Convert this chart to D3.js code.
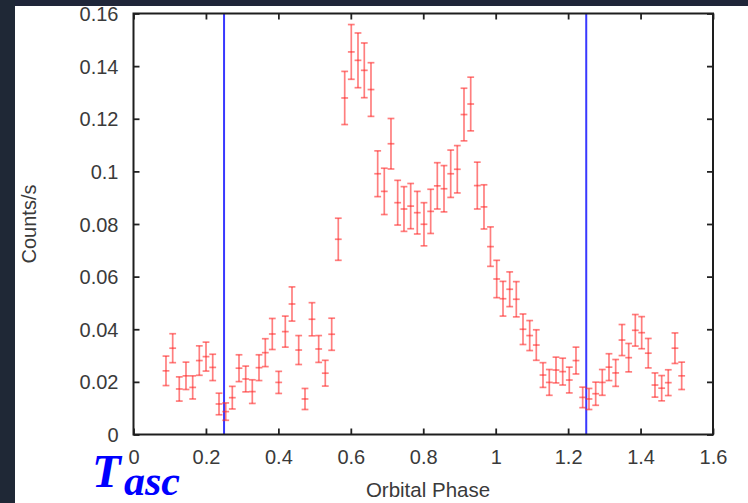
<!DOCTYPE html>
<html>
<head>
<meta charset="utf-8">
<script src="https://cdn.jsdelivr.net/npm/d3@7"></script>
<style>
  html, body { margin: 0; padding: 0; background: #ffffff; }
  svg { display: block; }
</style>
</head>
<body>
<svg width="748" height="503"></svg>
<script>
// orbital phase of each bin
const phase = [
  0.0897, 0.1082, 0.1264, 0.1449, 0.1634, 0.1817, 0.2002, 0.2187, 0.2361, 0.2546,
  0.2728, 0.2913, 0.3098, 0.3280, 0.3465, 0.3639, 0.3832, 0.4009, 0.4191, 0.4376,
  0.4561, 0.4735, 0.4928, 0.5113, 0.5295, 0.5472, 0.5654, 0.5831, 0.6013, 0.6198,
  0.6372, 0.6557, 0.6742, 0.6924, 0.7109, 0.7294, 0.7468, 0.7653, 0.7835, 0.8020,
  0.8205, 0.8388, 0.8573, 0.8758, 0.8940, 0.9125, 0.9310, 0.9492, 0.9677, 0.9856,
  1.0028, 1.0202, 1.0387, 1.0569, 1.0754, 1.0939, 1.1121, 1.1306, 1.1480, 1.1665,
  1.1850, 1.2032, 1.2217, 1.2402, 1.2576, 1.2761, 1.2943, 1.3128, 1.3313, 1.3487,
  1.3672, 1.3855, 1.4031, 1.4213, 1.4398, 1.4583, 1.4765, 1.4950, 1.5135
];

// count rate (counts/s)
const rate = [
  0.0242, 0.0328, 0.0173, 0.0223, 0.0179, 0.0281, 0.0296, 0.0255, 0.0116, 0.0087,
  0.0140, 0.0252, 0.0211, 0.0163, 0.0254, 0.0311, 0.0382, 0.0198, 0.0391, 0.0496,
  0.0321, 0.0135, 0.0438, 0.0325, 0.0233, 0.0381, 0.0742, 0.1279, 0.1454, 0.1422,
  0.1384, 0.1311, 0.0991, 0.0924, 0.1105, 0.0881, 0.0857, 0.0868, 0.0843, 0.0799,
  0.0848, 0.0945, 0.0934, 0.0991, 0.1008, 0.1216, 0.1256, 0.0946, 0.0865, 0.0714,
  0.0591, 0.0516, 0.0552, 0.0514, 0.0400, 0.0376, 0.0340, 0.0226, 0.0198, 0.0245,
  0.0239, 0.0207, 0.0281, 0.0141, 0.0135, 0.0155, 0.0198, 0.0256, 0.0234, 0.0359,
  0.0292, 0.0396, 0.0387, 0.0309, 0.0188, 0.0176, 0.0197, 0.0328, 0.0223
];

// 1-sigma error on the rate
const rateErr = [
  0.0056, 0.0055, 0.0046, 0.0052, 0.0044, 0.0056, 0.0055, 0.0050, 0.0041, 0.0033,
  0.0043, 0.0051, 0.0049, 0.0045, 0.0049, 0.0053, 0.0059, 0.0042, 0.0059, 0.0065,
  0.0055, 0.0040, 0.0063, 0.0051, 0.0049, 0.0061, 0.0080, 0.0101, 0.0104, 0.0104,
  0.0104, 0.0102, 0.0087, 0.0088, 0.0096, 0.0085, 0.0085, 0.0086, 0.0081, 0.0082,
  0.0084, 0.0088, 0.0088, 0.0090, 0.0090, 0.0100, 0.0102, 0.0089, 0.0084, 0.0075,
  0.0071, 0.0066, 0.0066, 0.0067, 0.0058, 0.0057, 0.0058, 0.0047, 0.0049, 0.0049,
  0.0051, 0.0049, 0.0051, 0.0039, 0.0040, 0.0044, 0.0049, 0.0051, 0.0051, 0.0059,
  0.0054, 0.0060, 0.0061, 0.0056, 0.0046, 0.0048, 0.0049, 0.0058, 0.0052
];

// time of ascending node markers
const ascPhase = [0.25, 1.25];

const xTicks = [0, 0.2, 0.4, 0.6, 0.8, 1, 1.2, 1.4, 1.6];
const yTicks = [0, 0.02, 0.04, 0.06, 0.08, 0.1, 0.12, 0.14, 0.16];

const svg = d3.select("svg");

// plot frame
const frame = { left: 133.5, right: 713, top: 13.5, bottom: 434.5 };

const x = d3.scaleLinear().domain([0, 1.6]).range([frame.left, frame.right]);
const y = d3.scaleLinear().domain([0, 0.16]).range([frame.bottom, frame.top]);

// dark slide border on the left and top
svg.append("rect").attr("x", 0).attr("y", 0).attr("width", 748).attr("height", 6).attr("fill", "#1f2639");
svg.append("rect").attr("x", 0).attr("y", 0).attr("width", 15).attr("height", 503).attr("fill", "#1f2836");

const font = "'Liberation Sans', Arial, Helvetica, sans-serif";

// axes: ticks pointing inward on all four sides
const axes = [
  { gen: d3.axisBottom(x).tickValues(xTicks).tickFormat(d3.format("~g")), tr: `translate(0,${frame.bottom})`, label: "x" },
  { gen: d3.axisTop(x).tickValues(xTicks), tr: `translate(0,${frame.top})`, label: null },
  { gen: d3.axisLeft(y).tickValues(yTicks).tickFormat(d3.format("~g")), tr: `translate(${frame.left},0)`, label: "y" },
  { gen: d3.axisRight(y).tickValues(yTicks), tr: `translate(${frame.right},0)`, label: null }
];

axes.forEach(function(a) {
  a.gen.tickSizeInner(-6).tickSizeOuter(0);
  const g = svg.append("g").attr("transform", a.tr).call(a.gen);
  g.select(".domain").remove();
  g.selectAll(".tick line").attr("stroke", "#222").attr("stroke-width", 1.8);
  const t = g.selectAll(".tick text");
  if (!a.label) {
    t.remove();
    return;
  }
  t.attr("fill", "#3a3a3a")
    .style("font-family", font)
    .style("font-size", "20px");
  if (a.label === "x") t.attr("y", 15).attr("dy", "0.71em");
  else t.attr("x", -15).attr("dy", "0.35em");
});

// blue T_asc lines
svg.selectAll("line.asc")
  .data(ascPhase)
  .enter().append("line")
  .attr("class", "asc")
  .attr("x1", d => x(d)).attr("x2", d => x(d))
  .attr("y1", frame.top).attr("y2", frame.bottom)
  .attr("stroke", "#3838ff")
  .attr("stroke-width", 2);

// error bars
const pts = phase.map((p, i) => ({ p: p, v: rate[i], e: rateErr[i] }));
const bars = svg.append("g")
  .attr("stroke", "#ff2a2a")
  .attr("stroke-opacity", 0.6)
  .attr("stroke-width", 1.7);

const cap = 3.4;
const pt = bars.selectAll("g").data(pts).enter().append("g");
pt.append("line")
  .attr("x1", d => x(d.p)).attr("x2", d => x(d.p))
  .attr("y1", d => y(d.v + d.e)).attr("y2", d => y(d.v - d.e));
pt.append("line")
  .attr("x1", d => x(d.p) - cap).attr("x2", d => x(d.p) + cap)
  .attr("y1", d => y(d.v + d.e)).attr("y2", d => y(d.v + d.e));
pt.append("line")
  .attr("x1", d => x(d.p) - cap).attr("x2", d => x(d.p) + cap)
  .attr("y1", d => y(d.v - d.e)).attr("y2", d => y(d.v - d.e));
pt.append("line")
  .attr("x1", d => x(d.p) - cap).attr("x2", d => x(d.p) + cap)
  .attr("y1", d => y(d.v)).attr("y2", d => y(d.v));

// frame
svg.append("rect")
  .attr("x", frame.left).attr("y", frame.top)
  .attr("width", frame.right - frame.left).attr("height", frame.bottom - frame.top)
  .attr("fill", "none")
  .attr("stroke", "#1e1e1e")
  .attr("stroke-width", 2);

// axis titles
svg.append("text")
  .attr("x", 428).attr("y", 497)
  .attr("text-anchor", "middle")
  .attr("fill", "#3a3a3a")
  .style("font-family", font).style("font-size", "20.5px")
  .text("Orbital Phase");

svg.append("text")
  .attr("transform", "translate(36,224) rotate(-90)")
  .attr("text-anchor", "middle")
  .attr("fill", "#3a3a3a")
  .style("font-family", font).style("font-size", "20px")
  .text("Counts/s");

// T_asc annotation, subscript drawn as its own text
const tascStyle = function(sel, size) {
  sel.attr("fill", "#0000ff")
    .style("font-family", "'Liberation Serif', 'DejaVu Serif', serif")
    .style("font-weight", "bold")
    .style("font-style", "italic")
    .style("font-size", size);
};
svg.append("text").attr("x", 92).attr("y", 487).call(tascStyle, "47px").text("T");
svg.append("text").attr("x", 124).attr("y", 495).call(tascStyle, "42px").text("asc");
</script>
</body>
</html>
